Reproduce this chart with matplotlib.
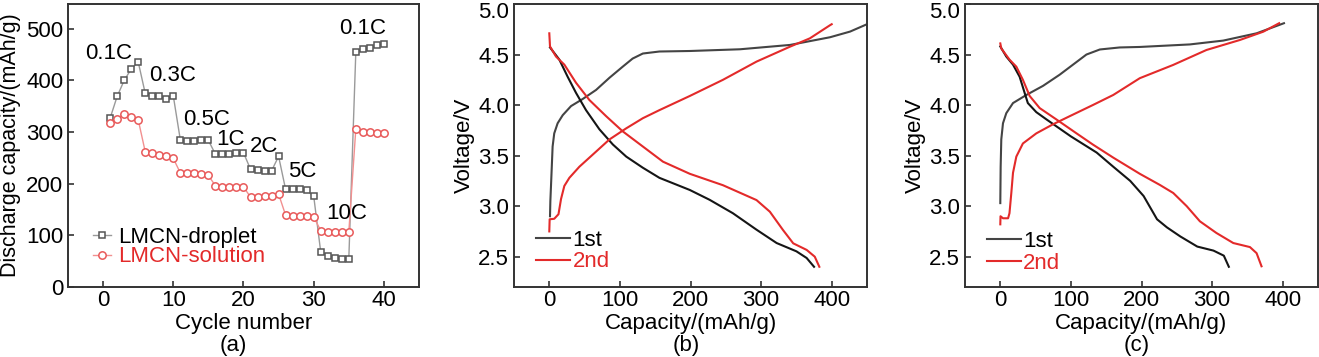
import numpy as np
import matplotlib
matplotlib.use("Agg")
import matplotlib.pyplot as plt
from matplotlib.legend_handler import HandlerLine2D
from matplotlib.transforms import ScaledTranslation

plt.rcParams['font.family'] = ['Liberation Sans', 'DejaVu Sans']

# ---------------- data ----------------
cycles = list(range(1, 41))
droplet = [327, 369, 400, 422, 436, 375, 370, 369, 365, 370,
           285, 282, 282, 284, 284, 257, 258, 258, 259, 260,
           228, 227, 225, 225, 253, 189, 190, 189, 187, 176,
           68, 60, 57, 55, 54, 455, 460, 462, 468, 471]
solution = [317, 326, 335, 330, 324, 262, 260, 256, 253, 249,
            221, 220, 220, 219, 216, 196, 194, 194, 194, 194,
            174, 175, 176, 177, 180, 139, 138, 137, 137, 136,
            109, 106, 106, 106, 106, 306, 301, 301, 299, 298]
rate_labels = ["0.1C", "0.3C", "0.5C", "1C", "2C", "5C", "10C", "0.1C"]
rate_x = [0.85, 9.9, 14.75, 18.1, 22.9, 28.3, 34.7, 37.0]
rate_y = [453, 409, 324, 286, 272, 223, 143, 500]

# panel (b)
b_ch1_cap = [1, 1.5, 2.4, 4.7, 7, 11.8, 19, 30.8, 47.3, 66.3, 85.2, 104, 118, 132.5, 156, 199, 270, 341, 397.6, 426, 450]
b_ch1_v = [2.90, 3.05, 3.20, 3.59, 3.72, 3.82, 3.90, 3.99, 4.06, 4.15, 4.27, 4.38, 4.46, 4.51, 4.53, 4.535, 4.552, 4.595, 4.671, 4.727, 4.80]
b_ch2_cap = [0, 0.5, 7, 13, 16.6, 21.3, 28.4, 42.6, 66.3, 85.2, 109, 132.5, 156, 199, 246, 293.5, 341, 369, 397.6, 400]
b_ch2_v = [2.75, 2.87, 2.875, 2.92, 3.07, 3.20, 3.28, 3.39, 3.54, 3.66, 3.77, 3.87, 3.95, 4.09, 4.25, 4.43, 4.578, 4.66, 4.79, 4.80]
b_dis1_cap = [1, 14.2, 26, 37.9, 52, 71, 90, 109, 132.5, 156, 199, 227, 260, 293.5, 322, 350, 364.5, 375]
b_dis1_v = [4.57, 4.45, 4.28, 4.12, 3.95, 3.76, 3.61, 3.49, 3.38, 3.28, 3.16, 3.063, 2.93, 2.767, 2.635, 2.553, 2.487, 2.40]
b_dis2_cap = [0, 1, 9.5, 21.3, 37.9, 56.8, 80.5, 104, 132.5, 161, 199, 246, 293.5, 312.4, 331, 345.5, 364.5, 376, 382.5]
b_dis2_v = [4.71, 4.58, 4.48, 4.40, 4.22, 4.05, 3.89, 3.74, 3.59, 3.44, 3.32, 3.207, 3.06, 2.945, 2.764, 2.632, 2.567, 2.50, 2.40]

# panel (c)
c_ch1_cap = [0, 0.5, 1.4, 3.8, 8.5, 18, 36.9, 60.5, 84, 103, 122, 141, 169, 197.6, 268.5, 315.8, 363, 401.8]
c_ch1_v = [3.03, 3.39, 3.66, 3.82, 3.92, 4.02, 4.10, 4.19, 4.30, 4.40, 4.50, 4.55, 4.57, 4.575, 4.60, 4.638, 4.71, 4.81]
c_ch2_cap = [0, 0.3, 3.8, 11, 13, 15.6, 18, 22.7, 32, 51, 74.7, 98.3, 131, 160, 197.6, 244.8, 292, 339.4, 372.5, 395]
c_ch2_v = [2.82, 2.90, 2.88, 2.88, 2.93, 3.13, 3.33, 3.49, 3.62, 3.72, 3.81, 3.89, 4.00, 4.10, 4.266, 4.397, 4.545, 4.644, 4.726, 4.81]
c_dis1_cap = [0, 8.5, 18, 27.4, 34.5, 39, 51, 65, 100, 136.5, 160, 184, 203, 222, 236, 255, 279, 302, 316.6, 323.7]
c_dis1_v = [4.58, 4.48, 4.40, 4.28, 4.12, 4.02, 3.93, 3.86, 3.69, 3.53, 3.39, 3.25, 3.10, 2.87, 2.79, 2.70, 2.60, 2.56, 2.51, 2.40]
c_dis2_cap = [0, 1.4, 13, 22.7, 32, 41.6, 55.8, 79, 108, 131, 160, 197.6, 226, 245, 264, 282.7, 306, 330, 353.6, 363, 370]
c_dis2_v = [4.61, 4.56, 4.45, 4.38, 4.25, 4.09, 3.97, 3.86, 3.72, 3.61, 3.48, 3.32, 3.21, 3.13, 3.00, 2.85, 2.735, 2.635, 2.595, 2.535, 2.405]

# ---------------- style ----------------
W, H = 1319, 357
fig = plt.figure(figsize=(W / 100, H / 100), dpi=100)
FS = 16
SPINE = '#333333'
RED = '#e32a2a'
GRAY_CH = '#444444'
BLACK_DIS = '#151515'


def px_axes(l, t, r, b):
    return fig.add_axes([l / W, 1 - b / H, (r - l) / W, (b - t) / H])


def style(ax):
    for s in ax.spines.values():
        s.set_color(SPINE)
        s.set_linewidth(1.4)
    ax.tick_params(direction='in', length=4, width=1.2, color=SPINE,
                   labelsize=FS, top=False, right=False)
    ax.tick_params(axis='y', pad=3.5)
    ax.tick_params(axis='x', pad=2.5)


class RightMarker(HandlerLine2D):
    def get_xdata(self, legend, xdescent, ydescent, width, height, fontsize):
        xdata = np.array([-xdescent, -xdescent + width * 0.8])
        xm = np.array([-xdescent + width * 0.8])
        return xdata, xm


# ---------------- panel (a) ----------------
ax1 = px_axes(68, 4, 419, 287)
style(ax1)
l1, = ax1.plot(cycles, droplet, color='#9a9a9a', lw=1.0, marker='s', ms=4.8,
               mfc='white', mec='#555555', mew=1.1, label='LMCN-droplet')
l2, = ax1.plot(cycles, solution, color='#f29090', lw=1.0, marker='o', ms=5.3,
               mfc='white', mec='#e85a5a', mew=1.1, label='LMCN-solution')
ax1.set_xlim(-5, 45)
ax1.set_ylim(0, 548)
ax1.set_xticks([0, 10, 20, 30, 40])
ax1.set_yticks([0, 100, 200, 300, 400, 500])
for t, x, y in zip(rate_labels, rate_x, rate_y):
    ax1.text(x, y, t, fontsize=FS, ha='center', va='center')
ax1.legend(handles=[l1, l2], loc='center left', bbox_to_anchor=(0.071, 0.141),
           frameon=False, fontsize=FS, handlelength=1.0, handletextpad=0.15,
           labelspacing=-0.07, borderpad=0, borderaxespad=0,
           labelcolor=['black', RED],
           handler_map={l1: RightMarker(numpoints=1), l2: RightMarker(numpoints=1)})
ax1.set_ylabel('Discharge capacity/(mAh/g)', fontsize=15.5)
ax1.yaxis.set_label_coords((21 - 68) / 351, 0.5)
ax1.set_xlabel('Cycle number', fontsize=FS, labelpad=1)
fig.text(233 / W, 1 - 346 / H, '(a)', fontsize=FS, ha='center', va='center')


def voltage_panel(l, r, label_x, data, leg_anchor):
    ax = px_axes(l, 4, r, 287)
    style(ax)
    (ch1c, ch1v, ch2c, ch2v, d1c, d1v, d2c, d2v) = data
    a, = ax.plot(ch1c, ch1v, color=GRAY_CH, lw=1.5, label='1st')
    ax.plot(d1c, d1v, color=BLACK_DIS, lw=1.5)
    b, = ax.plot(ch2c, ch2v, color=RED, lw=1.5, label='2nd')
    ax.plot(d2c, d2v, color=RED, lw=1.5)
    ax.set_xlim(-50, 450)
    ax.set_ylim(2.2, 5.0)
    ax.set_xticks([0, 100, 200, 300, 400])
    ax.set_yticks([2.5, 3.0, 3.5, 4.0, 4.5, 5.0])
    ax.set_yticklabels(['2.5', '3.0', '3.5', '4.0', '4.5', '5.0'])
    top = ax.get_yticklabels()[-1]
    top.set_transform(top.get_transform() +
                      ScaledTranslation(0, -5.5 / 100, fig.dpi_scale_trans))
    ax.legend(handles=[a, b], loc='center left', bbox_to_anchor=leg_anchor,
              frameon=False, fontsize=FS, handlelength=1.55, handletextpad=0.1,
              labelspacing=0.02, borderpad=0, borderaxespad=0,
              labelcolor=['black', RED])
    ax.set_ylabel('Voltage/V', fontsize=FS)
    ax.yaxis.set_label_coords((label_x - l) / (r - l), 0.5)
    ax.set_xlabel('Capacity/(mAh/g)', fontsize=FS, labelpad=1)
    return ax


axb = voltage_panel(514, 867, 475,
                    (b_ch1_cap, b_ch1_v, b_ch2_cap, b_ch2_v, b_dis1_cap, b_dis1_v, b_dis2_cap, b_dis2_v),
                    (0.062, 0.127))
fig.text(686 / W, 1 - 346 / H, '(b)', fontsize=FS, ha='center', va='center')
axc = voltage_panel(965, 1318, 926,
                    (c_ch1_cap, c_ch1_v, c_ch2_cap, c_ch2_v, c_dis1_cap, c_dis1_v, c_dis2_cap, c_dis2_v),
                    (0.061, 0.122))
fig.text(1137 / W, 1 - 346 / H, '(c)', fontsize=FS, ha='center', va='center')

fig.savefig('out.png', dpi=100)
